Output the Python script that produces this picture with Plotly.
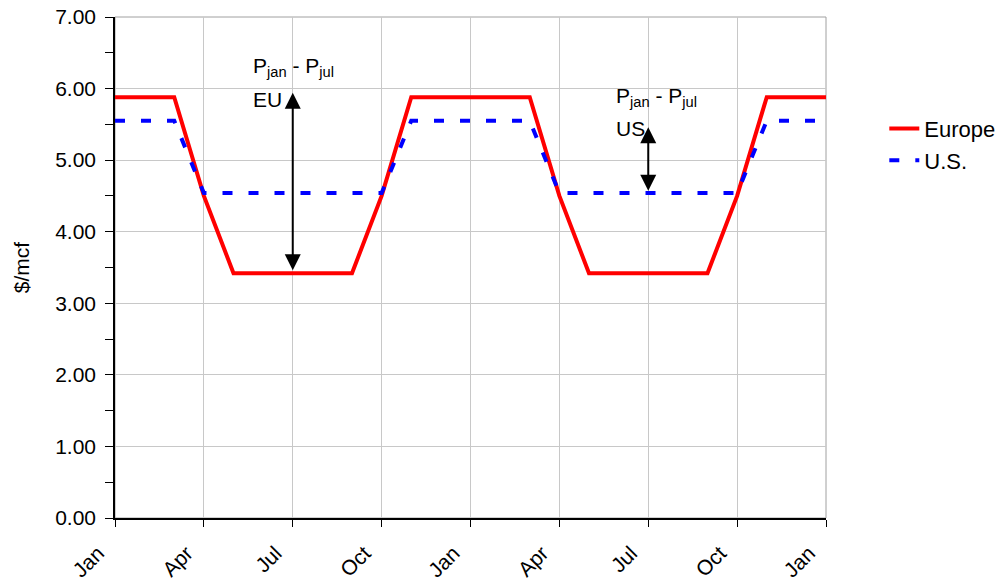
import plotly.graph_objects as go

# Monthly positions (0 = Jan of year 1 ... 24 = Jan of year 3)
month_names = ["Jan", "Feb", "Mar", "Apr", "May", "Jun", "Jul", "Aug", "Sep", "Oct", "Nov", "Dec"]
months = list(range(25))
month_labels = [month_names[m % 12] for m in months]

europe = [5.88, 5.88, 5.88, 4.50, 3.42, 3.42, 3.42, 3.42, 3.42, 4.50, 5.88, 5.88,
          5.88, 5.88, 5.88, 4.50, 3.42, 3.42, 3.42, 3.42, 3.42, 4.50, 5.88, 5.88, 5.88]
us = [5.55, 5.55, 5.55, 4.54, 4.54, 4.54, 4.54, 4.54, 4.54, 4.54, 5.55, 5.55,
      5.55, 5.55, 5.55, 4.54, 4.54, 4.54, 4.54, 4.54, 4.54, 4.54, 5.55, 5.55, 5.55]

tick_months = months[::3]
tick_labels = [month_labels[m] for m in tick_months]

# Arrow annotations (month, top, bottom)
eu_arrow = (6, 5.94, 3.44)
us_arrow = (18, 5.46, 4.55)

FONT = "Liberation Sans, Arial, sans-serif"

fig = go.Figure()
fig.add_trace(go.Scatter(x=months, y=europe, mode="lines", name="Europe",
                         line=dict(color="#ff0000", width=4)))
fig.add_trace(go.Scatter(x=months, y=us, mode="lines", name="U.S.",
                         line=dict(color="#0000ff", width=4, dash="10px,16px")))

for (mx, top, bot) in [eu_arrow, us_arrow]:
    fig.add_annotation(x=mx, y=top, ax=mx, ay=bot, xref="x", yref="y", axref="x", ayref="y",
                       text="", showarrow=True, arrowhead=2, startarrowhead=2,
                       arrowside="end+start", arrowsize=1.6, startarrowsize=1.6,
                       arrowwidth=2, arrowcolor="black")

ANN_FONT = dict(family=FONT, size=21, color="black")
fig.add_annotation(x=4.6, y=6.30, xref="x", yref="y", xanchor="left", yanchor="middle",
                   text="P<sub>jan</sub> - P<sub>jul</sub>", showarrow=False, font=ANN_FONT)
fig.add_annotation(x=4.6, y=5.85, xref="x", yref="y", xanchor="left", yanchor="middle",
                   text="EU", showarrow=False, font=ANN_FONT)
fig.add_annotation(x=16.85, y=5.88, xref="x", yref="y", xanchor="left", yanchor="middle",
                   text="P<sub>jan</sub> - P<sub>jul</sub>", showarrow=False, font=ANN_FONT)
fig.add_annotation(x=16.85, y=5.44, xref="x", yref="y", xanchor="left", yanchor="middle",
                   text="US", showarrow=False, font=ANN_FONT)

# plot-area border (gray)
fig.add_shape(type="rect", xref="paper", yref="paper", x0=0, y0=0, x1=1, y1=1,
              line=dict(color="#a0a0a0", width=1), layer="below")

fig.update_layout(
    width=1002, height=586,
    margin=dict(l=115, r=176, t=17, b=68, autoexpand=False),
    paper_bgcolor="white", plot_bgcolor="white",
    font=dict(family=FONT, size=21, color="black"),
    showlegend=True,
    legend=dict(x=1.082, y=0.745, xanchor="left", yanchor="middle",
                font=dict(family=FONT, size=22, color="black"),
                bgcolor="rgba(0,0,0,0)", tracegroupgap=6),
    xaxis=dict(range=[0, 24], tickmode="array", tickvals=tick_months, ticktext=tick_labels,
               tickangle=-45, ticks="outside", ticklen=7, tickcolor="black",
               showline=True, linecolor="black", linewidth=1.5, automargin=False,
               ticklabelstandoff=6, ticklabelshift=-17,
               showgrid=True, gridcolor="#c8c8c8", gridwidth=1, zeroline=False,
               tickfont=dict(family=FONT, size=21)),
    yaxis=dict(range=[0, 7], dtick=1, tickformat=".2f", ticks="outside", ticklen=8,
               tickcolor="black", showline=True, linecolor="black", linewidth=1.5,
               showgrid=True, gridcolor="#c8c8c8", gridwidth=1, zeroline=False,
               ticklabelstandoff=5, automargin=False,
               minor=dict(dtick=0.5, ticks="outside", ticklen=8, tickcolor="black", showgrid=False),
               title=dict(text="$/mcf", font=dict(family=FONT, size=21), standoff=20),
               tickfont=dict(family=FONT, size=21)),
)

fig.write_html("out.html")
